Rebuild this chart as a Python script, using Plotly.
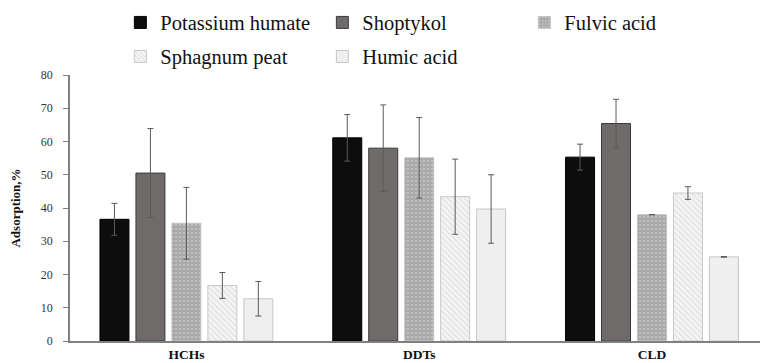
import plotly.graph_objects as go

# Pollutant groups on the category axis
groups = ["HCHs", "DDTs", "CLD"]

# Sorbent series: mean adsorption (%) and symmetric error (None = no bar drawn)
series_names = ["Potassium humate", "Shoptykol", "Fulvic acid", "Sphagnum peat", "Humic acid"]
potassium_humate = [36.6, 61.1, 55.3]
potassium_humate_err = [4.8, 7.0, 3.9]
shoptykol = [50.5, 58.0, 65.4]
shoptykol_err = [13.4, 13.0, 7.3]
fulvic_acid = [35.4, 55.1, 38.0]
fulvic_acid_err = [10.8, 12.1, None]
sphagnum_peat = [16.7, 43.4, 44.5]
sphagnum_peat_err = [3.9, 11.3, 1.9]
humic_acid = [12.7, 39.7, 25.3]
humic_acid_err = [5.2, 10.3, 0.1]

y_ticks = [0, 10, 20, 30, 40, 50, 60, 70, 80]

values = [potassium_humate, shoptykol, fulvic_acid, sphagnum_peat, humic_acid]
errors = [potassium_humate_err, shoptykol_err, fulvic_acid_err, sphagnum_peat_err, humic_acid_err]

styles = [
    dict(color="#0d0d0d", line=dict(color="#000000", width=1)),
    dict(color="#6f6b6b", line=dict(color="#3a3a3a", width=1)),
    dict(color="#ababab", line=dict(color="#c4c4c4", width=1),
         pattern=dict(shape=".", fgcolor="#d8d8d8", bgcolor="#a8a8a8", size=4, solidity=0.35)),
    dict(color="#f2f2f2", line=dict(color="#c8c8c8", width=1),
         pattern=dict(shape="\\", fgcolor="#c9c9c9", bgcolor="#f5f5f5", size=4, solidity=0.3)),
    dict(color="#efefef", line=dict(color="#c6c6c6", width=1)),
]
legend_ids = ["legend", "legend", "legend", "legend2", "legend2"]

serif = "'Times New Roman', 'Liberation Serif', Times, serif"

fig = go.Figure()
for name, vals, errs, st, lg in zip(series_names, values, errors, styles, legend_ids):
    fig.add_trace(go.Bar(
        name=name, x=groups, y=vals,
        marker=st,
        error_y=dict(type="data", array=errs, visible=True,
                     color="#5a5a5a", thickness=1, width=3),
        legend=lg,
    ))

legend_common = dict(
    orientation="h", xanchor="left", yanchor="middle",
    font=dict(family=serif, size=20.5, color="#111111"),
    entrywidth=157, entrywidthmode="pixels",
    bgcolor="rgba(0,0,0,0)", traceorder="normal",
)

fig.update_layout(
    width=760, height=363,
    margin=dict(l=70, r=0, t=75, b=22),
    paper_bgcolor="white", plot_bgcolor="white",
    font=dict(family=serif),
    barmode="group", bargap=0.2275, bargroupgap=0.194,
    showlegend=True,
    legend=dict(x=0.073, y=1.197, **legend_common),
    legend2=dict(x=0.073, y=1.069, **legend_common),
    xaxis=dict(
        type="category", range=[-0.5, 2.464],
        showline=True, linecolor="#808080", linewidth=1.5,
        ticks="", showgrid=False, zeroline=False,
        tickfont=dict(family=serif, size=13.5, color="#111111", weight="bold"),
    ),
    yaxis=dict(
        range=[0, 80], tickvals=y_ticks,
        showline=True, linecolor="#808080", linewidth=1.5,
        ticks="outside", ticklen=5, tickcolor="#808080",
        showgrid=False, zeroline=False,
        ticklabelstandoff=8,
        tickfont=dict(family=serif, size=12, color="#333333"),
        title=dict(text="Adsorption,%", standoff=17,
                   font=dict(family=serif, size=13, color="#111111", weight="bold")),
    ),
)

fig.write_html("out.html")
